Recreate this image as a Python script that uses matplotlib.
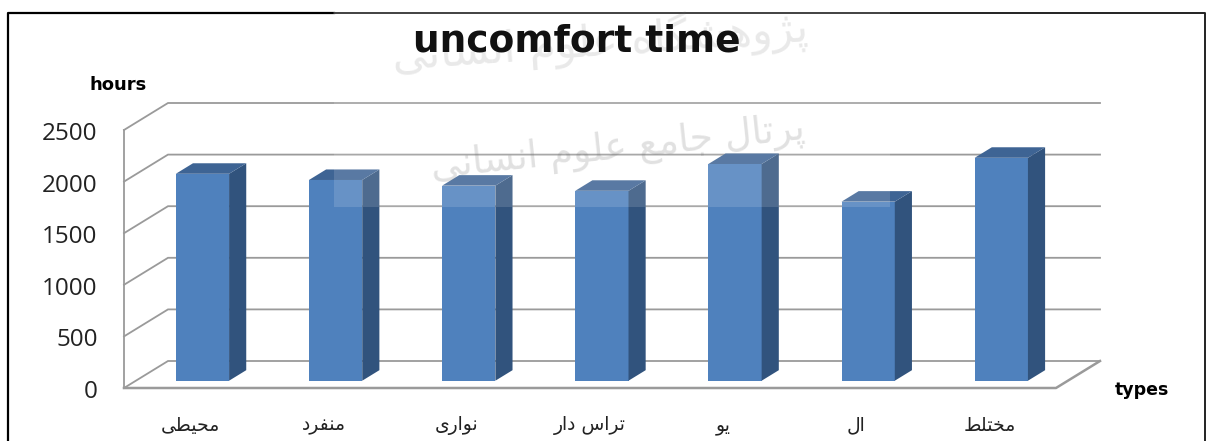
import matplotlib
matplotlib.use('Agg')
import matplotlib.pyplot as plt
from matplotlib.patches import Polygon, Rectangle
from matplotlib.lines import Line2D
from matplotlib.transforms import ScaledTranslation

# values
categories = ['محیطی', 'منفرد', 'نواری', 'تراس دار', 'یو', 'ال', 'مختلط']
hours = [2005, 1945, 1890, 1840, 2100, 1735, 2160]
yticks = [0, 500, 1000, 1500, 2000, 2500]

# isolated, final, initial, medial presentation forms
forms = {
    'ا': '\ufe8d\ufe8e', 'د': '\ufea9\ufeaa', 'ر': '\ufead\ufeae', 'و': '\ufeed\ufeee',
    'ژ': '\ufb8a\ufb8b',
    'پ': '\ufb56\ufb57\ufb58\ufb59', 'ت': '\ufe95\ufe96\ufe97\ufe98',
    'ج': '\ufe9d\ufe9e\ufe9f\ufea0', 'ح': '\ufea1\ufea2\ufea3\ufea4',
    'خ': '\ufea5\ufea6\ufea7\ufea8', 'س': '\ufeb1\ufeb2\ufeb3\ufeb4',
    'ش': '\ufeb5\ufeb6\ufeb7\ufeb8', 'ط': '\ufec1\ufec2\ufec3\ufec4',
    'ع': '\ufec9\ufeca\ufecb\ufecc', 'ف': '\ufed1\ufed2\ufed3\ufed4',
    'ل': '\ufedd\ufede\ufedf\ufee0', 'م': '\ufee1\ufee2\ufee3\ufee4',
    'ن': '\ufee5\ufee6\ufee7\ufee8', 'ه': '\ufee9\ufeea\ufeeb\ufeec',
    'ی': '\ufbfc\ufbfd\ufbfe\ufbff', 'گ': '\ufb92\ufb93\ufb94\ufb95',
}

def shape(word):
    # matplotlib does not join arabic letters, so do it by hand
    out = []
    for i, c in enumerate(word):
        if c not in forms:
            out.append(c)
            continue
        prev = word[i - 1] if i > 0 else ' '
        nxt = word[i + 1] if i < len(word) - 1 else ' '
        join_prev = prev in forms and len(forms[prev]) == 4
        join_next = nxt in forms and len(forms[c]) == 4
        f = forms[c]
        if join_prev and join_next:
            out.append(f[3])
        elif join_prev:
            out.append(f[1])
        elif join_next:
            out.append(f[2])
        else:
            out.append(f[0])
    return ''.join(out)[::-1]

W, H = 1206, 441
fig = plt.figure(figsize=(W / 100, H / 100), dpi=100)
fig.patch.set_facecolor('white')

# axes is the front plane of the 3d box
x0, x1, y0, y1 = 124, 1056, 130, 388
ax = fig.add_axes([x0 / W, 1 - y1 / H, (x1 - x0) / W, (y1 - y0) / H])
ax.set_xlim(0, len(categories))
ax.set_ylim(0, 2500)
ax.patch.set_visible(False)
for s in ax.spines.values():
    s.set_visible(False)

# depth of the box in data units
dx = 44 / ((x1 - x0) / len(categories))
dy = 27 / ((y1 - y0) / 2500)
grid_c = '#9a9a9a'

for v in yticks:
    ax.plot([0, dx, len(categories) + dx], [v, v + dy, v + dy], color=grid_c, lw=1.3,
            clip_on=False, zorder=1, solid_joinstyle='miter')
ax.plot([0, 0], [0, 2500], color=grid_c, lw=1.3, clip_on=False, zorder=1)
ax.plot([0, len(categories), len(categories) + dx], [0, 0, dy], color=grid_c, lw=1.8,
        clip_on=False, zorder=1)

# bars sit part way into the box
d_front = 0.27
d_back = 0.66
bar_w = 0.4
for i, v in enumerate(hours):
    xl = i + 0.5 - bar_w / 2 + d_front * dx
    xr = xl + bar_w
    yb = d_front * dy
    sx = (d_back - d_front) * dx
    sy = (d_back - d_front) * dy
    ax.bar(xl, v, bar_w, bottom=yb, align='edge', color='#4f81bd', clip_on=False, zorder=3)
    ax.add_patch(Polygon([(xr, yb), (xr + sx, yb + sy), (xr + sx, yb + v + sy), (xr, yb + v)],
                         facecolor='#31537d', edgecolor='none', clip_on=False, zorder=3))
    ax.add_patch(Polygon([(xl, yb + v), (xl + sx, yb + v + sy), (xr + sx, yb + v + sy), (xr, yb + v)],
                         facecolor='#3e6494', edgecolor='none', clip_on=False, zorder=3))

ax.set_yticks(yticks)
ax.set_yticklabels([str(v) for v in yticks], fontsize=17.5, family='Open Sans', color='#222222')
ax.set_xticks([i + 0.5 for i in range(len(categories))])
ax.set_xticklabels([shape(c) for c in categories], fontsize=13.5, family='DejaVu Sans', color='#222222')
ax.tick_params(axis='both', length=0)
ax.tick_params(axis='y', pad=19)
ax.tick_params(axis='x', pad=20)
# nudge the y labels down a little, they sit low in the original
nudge = ScaledTranslation(0, -1 / 100, fig.dpi_scale_trans)
for t in ax.get_yticklabels():
    t.set_transform(t.get_transform() + nudge)

# faint watermark over the chart
fig.text(600 / W, 1 - 42 / H, shape('پژوهشگاه علوم انسانی'), fontsize=31, rotation=4, color='#555555',
         alpha=0.15, ha='center', va='center', family='DejaVu Sans')
fig.text(618 / W, 1 - 148 / H, shape('پرتال جامع علوم انسانی'), fontsize=27, rotation=6, color='#555555',
         alpha=0.2, ha='center', va='center', family='DejaVu Sans')
fig.add_artist(Rectangle((334 / W, 1 - 207 / H), 556 / W, 195 / H, transform=fig.transFigure,
                         facecolor='white', alpha=0.14, edgecolor='none', zorder=5))

fig.text(577 / W, 1 - 41 / H, 'uncomfort time', fontsize=27, fontweight='bold',
         ha='center', va='center', color='#111111', zorder=6)
fig.text(118 / W, 1 - 85 / H, 'hours', fontsize=13, fontweight='bold', ha='center', va='center', color='black')
fig.text(1142 / W, 1 - 390 / H, 'types', fontsize=12.5, fontweight='bold', ha='center', va='center', color='black')

# outer frame, runs off the bottom of the image
fig.add_artist(Line2D([7.5 / W, 7.5 / W, 334 / W], [0, 1 - 12.5 / H, 1 - 12.5 / H], color='black', lw=1.6))
fig.add_artist(Line2D([334 / W, 1205 / W, 1205 / W], [1 - 12.5 / H, 1 - 12.5 / H, 0], color='#222222', lw=1.4))

fig.savefig('out.png', dpi=100)
